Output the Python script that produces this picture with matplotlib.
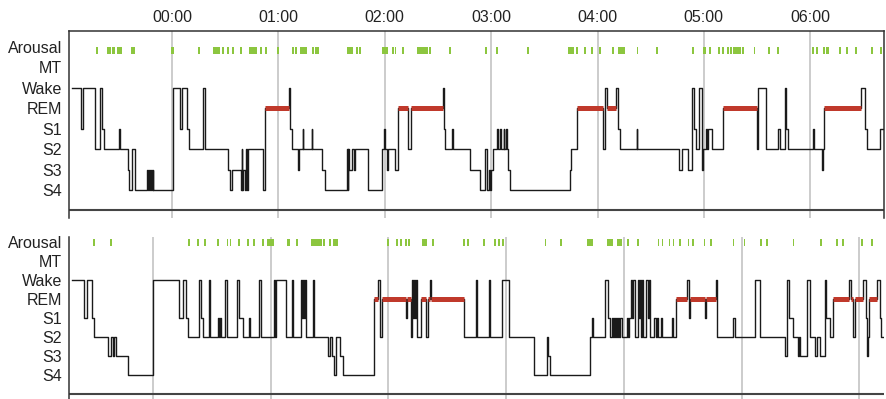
import matplotlib.pyplot as plt
import numpy as np

plt.rcParams['font.family'] = ['Liberation Sans', 'DejaVu Sans']

# y labels from bottom to top
stage_labels = ['S4', 'S3', 'S2', 'S1', 'REM', 'Wake', 'MT', 'Arousal']
stage_level = {'4': 0, '3': 1, '2': 2, '1': 3, 'R': 4, 'W': 5}
hour_labels = ['00:00', '01:00', '02:00', '03:00', '04:00', '05:00', '06:00']
hours_min = [0, 60, 120, 180, 240, 300, 360]

# night 1: (minutes from 00:00, stage)
top_hyp = [(-56.5, 'W'), (-51.5, '1'), (-50, 'W'), (-43.5, '2'), (-40.5, 'W'), (-39.5, '1'), (-38.5, '2'),
           (-30, '1'), (-29.5, '2'), (-25, '3'), (-24.5, '4'), (-22.5, '2'), (-21, '4'), (-14, '3'),
           (-13.5, '4'), (-13, '3'), (-12.5, '4'), (-12, '3'), (-11.5, '4'), (-11, '3'), (-10.5, '4'),
           (0.5, 'W'), (4.5, '1'), (5.5, 'W'), (8.5, '1'), (9.5, '2'), (17.5, 'W'), (18.5, '2'),
           (31.6, '3'), (32.7, '4'), (33.8, '3'), (38.9, '4'), (39.2, '2'), (39.7, '4'), (40, '3'),
           (41.2, '4'), (41.7, '2'), (42.3, '4'), (42.9, '2'), (51.3, '4'), (52.5, 'R'),
           (66, 'W'), (66.6, '1'), (67.5, '2'), (71, '3'), (71.5, '2'), (73.7, '1'), (74, '2'),
           (78.8, '1'), (79.1, '2'), (84.4, '3'), (86.3, '4'), (98.5, '2'), (99, '4'), (99.5, '2'),
           (100, '3'), (101.5, '2'), (102.5, '3'), (103.5, '2'), (110.5, '4'), (118.5, '2'),
           (119.5, '1'), (120, '2'), (121.5, '3'), (122, '2'), (126, '3'), (127.5, 'R'), (133, '2'),
           (135, 'R'), (153, 'W'), (153.5, '1'), (154, '2'), (158, '1'), (158.5, '2'), (168, '3'),
           (173.5, '4'), (176.5, '2'), (177.5, '4'), (179, '3'), (179.5, '4'), (180, '3'), (181, '2'),
           (183.5, '1'), (184, '2'), (185, '1'), (185.5, '2'), (187, '1'), (187.5, '2'), (188.5, '1'),
           (189, '2'), (189.5, '3'), (190.5, '4'), (224.5, '3'), (225, '2'), (228.5, 'R'), (243, '2'),
           (244, 'W'), (245.5, 'R'), (250.5, 'W'), (251.5, '1'), (252.5, '2'), (262, '1'), (262.5, '2'),
           (286, '3'), (287.4, '2'), (291, '3'), (293.3, 'W'), (294.4, '1'), (295.5, '2'), (297.2, 'W'),
           (298.9, '3'), (299.7, '2'), (301.2, '1'), (301.7, '2'), (302.3, '1'), (304.6, '2'),
           (310.8, 'R'), (330, '2'), (330.5, 'W'), (335.3, '2'), (341.7, '1'), (342.8, '2'),
           (345.5, 'W'), (346.5, '1'), (347.5, '2'), (361.5, '1'), (362, '2'), (366.5, '3'), (367, '2'),
           (367.5, 'R'), (388.5, 'W'), (391, '1'), (392, '2'), (399.5, '1')]
top_end = 401.5

# night 1 arousals: (start minute, duration)
top_arousal = [(-42.9, 1.1), (-36.7, 2.3), (-33.8, 1.7), (-31, 2.8), (-23.1, 2.3), (-0.6, 1.7), (14.7, 1.1),
               (23.1, 4), (28, 1.1), (30.8, 1.1), (33.6, 1.1), (38.2, 1.1), (43.4, 4.5), (49.4, 1.1),
               (52.3, 1.1), (59, 1.1), (67.8, 1.1), (69.6, 1.1), (72.2, 3.9), (78.8, 1.1), (80.7, 1.1),
               (81.8, 1.1), (98.7, 3.3), (104, 1.1), (105.7, 1.1), (118.4, 3.4), (124, 1.1), (125.5, 1.1),
               (130, 1.1), (138.2, 6.2), (145.2, 1.1), (156.5, 1.1), (176.7, 1.1), (183, 1.1),
               (200.5, 1.1), (223.3, 3.4), (228.1, 1.1), (232.6, 1.1), (236.6, 1.1), (241, 1.1),
               (248.4, 1.1), (251.5, 4), (262, 1.1), (273.2, 1.1), (293.5, 1.1), (299.5, 1.7),
               (303.1, 1.1), (308.2, 1.1), (310.5, 1.1), (313, 1.1), (315, 1.1), (316.4, 4.5),
               (321.5, 1.1), (328, 1.1), (336.4, 1.1), (341.5, 1.1), (361.2, 1.1), (363.5, 1.1),
               (367.2, 1.1), (368.7, 1.6), (376.3, 1.1), (380.3, 1.1), (385.4, 1.2), (394.4, 1.1),
               (399.5, 1.1)]

# night 2
bottom_hyp = [(-41.5, 'W'), (-35, '1'), (-33.5, 'W'), (-31, '1'), (-30, '2'), (-23, '3'), (-21.5, '2'),
              (-20.5, '3'), (-20, '2'), (-19, '3'), (-12.5, '4'), (0, 'W'), (13.4, '1'), (15.1, 'W'),
              (16.8, '1'), (17.6, '2'), (23.6, 'W'), (24.4, '1'), (25.3, '2'), (28.7, 'W'), (29.2, '2'),
              (33, '1'), (33.5, '2'), (34, '1'), (34.5, '2'), (36.6, 'W'), (37.6, '2'), (43, 'W'),
              (44, '1'), (46, '2'), (48.8, '1'), (49.3, '2'), (54.1, 'W'), (55.3, '2'), (61.6, 'W'),
              (62.1, '2'), (62.6, 'W'), (67.7, '2'), (71.1, 'W'), (71.6, '2'), (75.3, 'W'), (76, '1'),
              (76.5, 'W'), (77, '1'), (77.5, 'W'), (78, '2'), (81.5, 'W'), (82, '2'),
              (89, '3'), (90, '2'), (91, '3'), (92.5, '4'), (93.5, '2'), (95.5, '3'), (97, '4'),
              (112.5, 'R'), (114.5, 'W'), (115.5, '2'), (116.5, 'R'), (129, '1'), (129.5, 'R'),
              (131.5, '2'), (132, 'W'), (132.5, '1'), (133, 'W'), (133.5, '1'), (134, 'W'), (134.5, '2'),
              (136.5, 'R'), (139, '2'), (140, 'R'), (141, 'W'), (141.5, 'R'), (158.5, '2'), (164.5, 'W'),
              (165, '2'), (171.5, 'W'), (172, '2'), (178, 'W'), (181.5, '2'), (194, '4'), (201, '2'),
              (201.5, '3'), (202.5, '4'), (223, '2'), (224, '1'), (224.5, '2'), (230.5, 'W'), (232, '1'),
              (233, '2'), (234, '1'), (234.5, '2'), (235, '1'), (235.5, '2'), (236, '1'), (236.5, '2'),
              (237, '1'), (237.5, '2'), (238, '1'), (239, '2'), (241.5, '1'), (242, '2'), (242.5, '1'),
              (243.5, 'W'), (244, '1'), (244.5, 'W'), (245.5, '2'), (247, 'W'), (247.5, '1'), (248, 'W'),
              (248.5, '2'), (249.5, 'W'), (250, '2'), (251.5, 'W'), (252.2, '1'), (253, 'W'), (253.5, '2'),
              (255.5, '1'), (256.5, '2'), (257, '1'), (257.5, '2'), (259, '1'), (259.5, '2'),
              (264.5, '1'), (265, '2'), (266.5, 'R'), (272, 'W'), (273, '1'), (273.5, 'R'), (281.5, '1'),
              (282, 'R'), (287, 'W'), (287.5, '2'), (295.5, '1'), (296.5, '2'), (307, 'W'), (309.5, '2'),
              (322.2, '3'), (323.2, 'W'), (324.2, '1'), (326, '2'), (328.8, '3'), (329.3, '2'), (329.8, '3'),
              (333.4, 'W'), (335, '2'), (337.5, '3'), (338.6, '2'), (340, '3'), (342.4, 'W'), (343, '1'),
              (345, '2'), (346.7, 'R'), (354.8, 'W'), (355.8, 'R'), (356.8, '2'), (357.6, 'R'),
              (362.1, 'W'), (363.2, '1'), (363.9, '3'), (364.4, '2'), (365, 'R'), (369.2, 'W'),
              (370.6, '1'), (371.3, '2')]
bottom_end = 372.5

bottom_arousal = [(-30.8, 1), (-21.8, 1), (18, 1), (22.6, 1), (26.2, 1), (32.5, 1.3), (37.7, 0.7),
                  (39.2, 0.7), (43.5, 1), (48.1, 1), (51.1, 1), (55.7, 1), (58.3, 3.2), (68.4, 1.2),
                  (73, 1), (80.4, 5.5), (86.7, 0.8), (89.6, 1), (91.8, 2.4), (119.3, 1.2), (123.7, 1),
                  (125.9, 1), (128.5, 1), (130.1, 0.8), (137, 2.6), (142.2, 1), (158, 1), (160, 1),
                  (168.2, 1), (173.7, 1), (175.7, 1), (177.7, 1), (199.7, 0.8), (207.7, 0.8),
                  (221.4, 3), (231.6, 3), (236.7, 2.5), (241.5, 1), (246.6, 1), (257.3, 0.8),
                  (259.3, 0.8), (262.9, 0.8), (264.9, 0.8), (267.9, 1.2), (272.5, 0.8), (274.6, 1),
                  (280.7, 0.8), (283.7, 1), (295.4, 0.7), (301, 1), (309.2, 1), (312.7, 1), (326, 0.8),
                  (340.2, 1), (347.9, 1), (351.4, 1), (361.1, 1), (366.2, 1)]

RED = '#c0392b'
GREEN = '#8cc63f'
GRID = '#c8c8c8'
FONT = 11.5


def draw_hypnogram(ax, hyp, end, arousal, xlim, ylim, arousal_y):
    t = [h[0] for h in hyp] + [end]
    lv = [stage_level[h[1]] for h in hyp]
    lv = lv + [lv[-1]]

    for m in hours_min:
        ax.axvline(m, color=GRID, lw=1.3, zorder=0)
    ax.axhline(-1, color='#444444', lw=1.5, zorder=1)

    ax.step(t, lv, where='post', color='#1a1a1a', lw=1.0, zorder=3)

    # REM periods in red
    for i, h in enumerate(hyp):
        if h[1] == 'R':
            ax.hlines(4, t[i], t[i + 1], color=RED, lw=3.6, zorder=4)

    ax.broken_barh(arousal, arousal_y, facecolor=GREEN, edgecolor='none', zorder=2)

    ax.set_xlim(xlim)
    ax.set_ylim(ylim)
    ax.set_yticks(range(8))
    ax.set_yticklabels(stage_labels, fontsize=FONT, color='#222222')
    ax.tick_params(axis='y', length=0, pad=5)
    ax.spines['bottom'].set_visible(False)


fig = plt.figure(figsize=(8.87, 3.99), dpi=100)
ax1 = fig.add_axes([69 / 887, 1 - 218 / 399, 815 / 887, 187 / 399])
ax2 = fig.add_axes([69 / 887, 0, 815 / 887, 162 / 399])

draw_hypnogram(ax1, top_hyp, top_end, top_arousal, (-58.1, 401.6), (-1.37, 7.78), (6.66, 0.35))
draw_hypnogram(ax2, bottom_hyp, bottom_end, bottom_arousal, (-42.8, 372.6), (-1.26, 7.26), (6.8, 0.34))

for sp in ['top', 'left', 'right']:
    ax1.spines[sp].set_color('#333333')
    ax1.spines[sp].set_linewidth(1.1)
ax1.xaxis.tick_top()
ax1.set_xticks(hours_min)
ax1.set_xticklabels(hour_labels, fontsize=FONT, color='#222222')
ax1.tick_params(axis='x', length=0, pad=4)

ax2.spines['top'].set_visible(False)
ax2.spines['right'].set_visible(False)
ax2.spines['left'].set_color('#333333')
ax2.spines['left'].set_linewidth(1.1)
ax2.set_xticks([])

fig.savefig('out.png', dpi=100)
